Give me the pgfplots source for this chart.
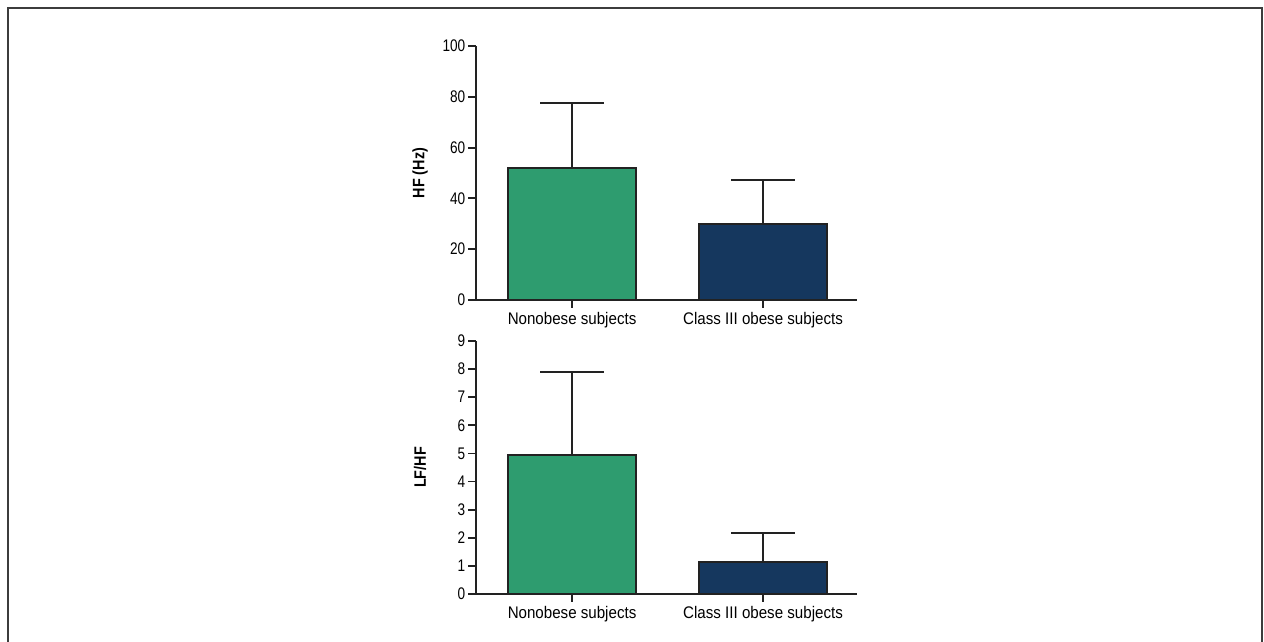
\documentclass[border=0pt]{standalone}
\usepackage{fontspec}
\setmainfont{Liberation Sans}
\newfontfamily\numfont[FakeStretch=0.81]{Liberation Sans}
\newfontfamily\txtfont[FakeStretch=0.9]{Liberation Sans}
\newfontfamily\lblfont[FakeStretch=0.87]{Liberation Sans}
\usepackage{pgfplots}
\pgfplotsset{compat=1.18}
\definecolor{bargreen}{HTML}{2E9C6F}
\definecolor{barblue}{HTML}{15375E}
\definecolor{ink}{HTML}{222222}
\pgfplotsset{
  mybars/.style={
    scale only axis,
    width=285.75pt,
    xmin=-0.503, xmax=1.492,
    ymin=0,
    axis x line*=bottom,
    axis y line*=left,
    axis line style={ink, line width=1.4pt},
    tick align=outside,
    major tick length=6pt,
    tick style={ink, line width=1.4pt},
    xtick={0,1},
    xticklabels={Nonobese subjects, Class III obese subjects},
    x tick label style={font=\txtfont\fontsize{12.6}{14}\selectfont, yshift=0pt},
    y tick label style={font=\numfont\fontsize{12.6}{14}\selectfont, xshift=1.5pt},
    /pgf/number format/assume math mode=true,
    ylabel style={font=\lblfont\bfseries\fontsize{12.4}{14}\selectfont, at={(axis description cs:-0.147,0.5)}, anchor=center, rotate=0},
    ybar, bar width=96pt, bar shift=0pt,
    clip=false,
  },
  mybar/.style={
    draw=ink, line width=1.4pt, fill=#1,
    error bars/.cd, y dir=plus, y explicit,
    error bar style={ink, line width=1.4pt},
    error mark options={ink, line width=1.4pt, mark size=24pt, rotate=90},
  }
}
\begin{document}
\begin{tikzpicture}
\useasboundingbox (0,0) rectangle (948pt,481.5pt);
\draw[color={rgb,255:red,60;green,60;blue,60}, line width=1.4pt] (6pt,0) -- (6pt,475.5pt) -- (946.5pt,475.5pt) -- (946.5pt,0);
\begin{axis}[mybars, at={(357pt,256.5pt)}, anchor=south west,
  height=190.5pt, ymax=100, ytick={0,20,40,60,80,100}, ylabel={HF (Hz)}]
\addplot[mybar=bargreen] coordinates {(0,51.8) +- (0,25.8)};
\addplot[mybar=barblue] coordinates {(1,30.0) +- (0,17.1)};
\end{axis}
\begin{axis}[mybars, at={(357pt,36pt)}, anchor=south west,
  height=189.75pt, ymax=9, ytick={0,1,2,3,4,5,6,7,8,9}, ylabel={LF/HF}]
\addplot[mybar=bargreen] coordinates {(0,4.95) +- (0,2.95)};
\addplot[mybar=barblue] coordinates {(1,1.15) +- (0,1.02)};
\end{axis}
\end{tikzpicture}
\end{document}
